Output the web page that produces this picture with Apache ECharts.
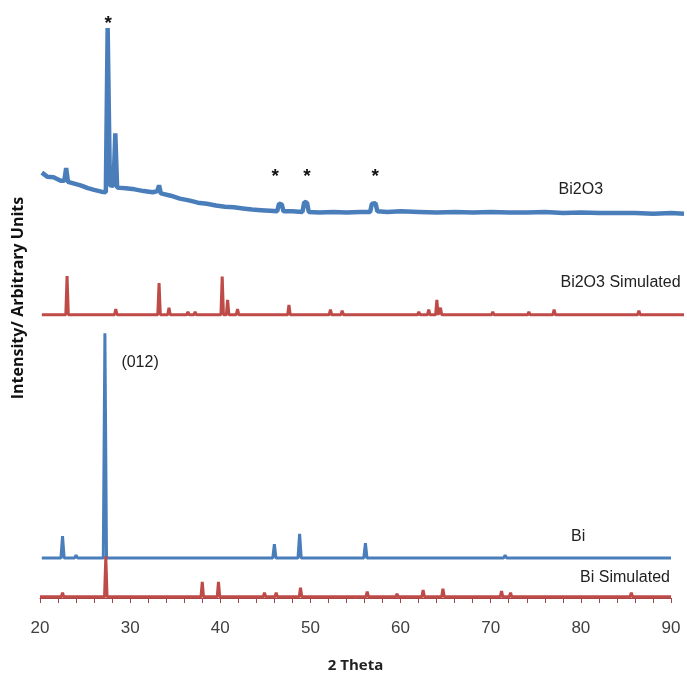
<!DOCTYPE html>
<html>
<head>
<meta charset="utf-8">
<script src="https://cdn.jsdelivr.net/npm/echarts@6/dist/echarts.min.js"></script>
<style>
html,body{margin:0;padding:0;background:#fff;}
#chart{width:687px;height:680px;}
</style>
</head>
<body>
<div id="chart"></div>
<script>
// ---- data (2θ in degrees, intensity in arbitrary stacked units) ----
const xTicks = [20, 30, 40, 50, 60, 70, 80, 90];

// Experimental Bi2O3 pattern (absolute stacked intensity)
const bi2o3Exp = [
  [20.2,73.6],[20.8,72.9],[21.5,72.8],[22.3,72.2],[22.7,72.2],[22.9,74.4],[23.1,72.0],
  [23.8,71.7],[24.5,71.4],[25.3,70.9],[26.0,70.6],[26.8,70.3],[27.3,70.2],[27.5,98.6],
  [27.75,71.4],[28.15,71.3],[28.35,80.4],[28.55,71.0],[29.5,70.9],[30.5,70.7],[31.5,70.4],
  [32.5,70.2],[33.0,70.4],[33.2,71.4],[33.4,70.0],[34.5,69.6],[35.5,69.1],[36.5,68.8],
  [37.5,68.4],[38.5,68.2],[39.5,67.9],[40.5,67.7],[41.5,67.6],[42.5,67.4],[43.5,67.2],
  [44.5,67.1],[45.5,67.0],[46.3,66.9],[46.5,68.2],[46.8,68.1],[47.0,66.9],[48.0,66.9],
  [49.1,66.8],[49.3,68.5],[49.6,68.4],[49.8,66.8],[51.0,66.7],[52.5,66.8],[54.0,66.7],
  [55.5,66.8],[56.6,66.8],[56.8,68.2],[57.2,68.3],[57.4,66.9],[58.5,66.8],[60,66.9],
  [62,66.8],[64,66.7],[66,66.8],[68,66.7],[70,66.8],[72,66.7],[74,66.7],[76,66.8],
  [78,66.6],[80,66.7],[82,66.6],[84,66.6],[86,66.6],[88,66.5],[90,66.6],[91.4,66.5]
];

// Simulated Bi2O3 sticks: [2θ, height]
const bi2o3SimBase = 49.0;
const bi2o3SimPeaks = [
  [23.0,6.7],[28.4,1.0],[33.2,5.5],[34.3,1.2],[36.4,0.5],[37.2,0.5],[40.2,6.6],[40.8,2.6],
  [41.9,1.0],[44.4,0.3],[47.6,1.7],[50.2,0.3],[52.2,0.9],[53.5,0.7],[56.6,0.3],[62.0,0.5],
  [63.1,0.9],[64.0,2.6],[64.4,1.2],[67.2,0.3],[69.2,0.3],[70.2,0.5],[73.3,0.3],[74.2,0.5],
  [77.0,0.9],[79.2,0.3],[82.9,0.3],[86.4,0.7]
];
const bi2o3SimRange = [20.2, 91.4];

// Experimental Bi pattern
const biExpBase = 6.9;
const biExpPeaks = [
  [22.5,3.8],[24.0,0.5],[27.2,38.9],[38.0,0.2],[39.8,0.2],[44.6,0.3],[46.0,2.4],
  [48.8,4.2],[56.1,2.6],[71.6,0.5]
];
const biExpRange = [20.2, 90];

// Simulated Bi sticks
const biSimBase = 0.2;
const biSimPeaks = [
  [22.5,0.7],[27.3,7.0],[38.0,2.6],[39.8,2.6],[44.9,0.7],[46.2,0.7],[48.9,1.6],[56.3,0.9],
  [59.6,0.5],[62.5,1.2],[64.7,1.4],[67.9,0.3],[71.2,1.0],[72.2,0.7],[85.6,0.7],[87.7,0.3]
];
const biSimRange = [20, 90];

// Annotations [text, 2θ, y]
const annotations = [
  ['Bi2O3', 80.0, 70.6],
  ['Bi2O3 Simulated', 84.4, 54.5],
  ['Bi', 79.7, 10.6],
  ['Bi Simulated', 84.9, 3.6],
  ['(012)', 31.1, 40.8]
];
const stars = [[27.55, 99.4], [46.07, 72.8], [49.6, 72.8], [57.17, 72.8]];

// ---- build stick/peak lines from the lists ----
function sticks(peaks, base, range, hw) {
  const out = [[range[0], base]];
  peaks.forEach(p => {
    out.push([p[0] - hw, base]);
    out.push([p[0], base + p[1]]);
    out.push([p[0] + hw, base]);
  });
  out.push([range[1], base]);
  return out;
}

const BLUE = '#4A7EBB';
const RED = '#BE4B48';
const FONT = 'Liberation Sans, Arial, sans-serif';
const BFONT = '"Open Sans", Arial, sans-serif';

const chart = echarts.init(document.getElementById('chart'), null, {renderer: 'canvas'});

const labelMarks = annotations.map(a => ({
  coord: [a[1], a[2]],
  label: {formatter: a[0]}
}));
const starMarks = stars.map(s => ({
  coord: s,
  label: {formatter: '*'}
}));

const hiddenY = {
  type: 'value', min: 0, max: 100,
  axisLine: {show: false}, axisTick: {show: false}, axisLabel: {show: false},
  splitLine: {show: false}
};

chart.setOption({
  animation: false,
  backgroundColor: '#ffffff',
  grid: [
    {left: 40, right: 16, top: 20, bottom: 82, containLabel: false},
    {left: 40, right: 3, top: 20, bottom: 82, containLabel: false}
  ],
  xAxis: [{
    gridIndex: 0,
    type: 'value',
    min: 20, max: 90, interval: 2,
    name: '2 Theta',
    nameLocation: 'middle',
    nameGap: 60,
    nameTextStyle: {fontFamily: BFONT, fontWeight: 'bold', fontSize: 15, color: '#222'},
    axisLine: {show: true, lineStyle: {color: '#A04848', width: 1}},
    axisTick: {show: true, inside: false, length: 5, lineStyle: {color: '#A04848', width: 1}},
    axisLabel: {
      show: true, margin: 22, fontSize: 17, fontFamily: FONT, color: '#404040',
      formatter: v => (xTicks.indexOf(v) >= 0 ? String(v) : '')
    },
    splitLine: {show: false}
  }, {
    gridIndex: 1,
    type: 'value',
    min: 20, max: 91.4,
    show: false,
    splitLine: {show: false}
  }],
  yAxis: [Object.assign({gridIndex: 0}, hiddenY), Object.assign({gridIndex: 1}, hiddenY)],
  graphic: [{
    type: 'text',
    x: 18, y: 298,
    rotation: Math.PI / 2,
    style: {
      text: 'Intensity/ Arbitrary Units',
      font: 'bold 16px ' + BFONT,
      fill: '#111',
      align: 'center',
      verticalAlign: 'middle'
    }
  }],
  series: [
    {
      name: 'Bi Simulated', type: 'line', xAxisIndex: 0, yAxisIndex: 0,
      data: sticks(biSimPeaks, biSimBase, biSimRange, 0.14),
      showSymbol: false, symbol: 'none', z: 3,
      lineStyle: {color: RED, width: 3}
    },
    {
      name: 'Bi', type: 'line', xAxisIndex: 0, yAxisIndex: 0,
      data: sticks(biExpPeaks, biExpBase, biExpRange, 0.18),
      showSymbol: false, symbol: 'none', z: 2,
      lineStyle: {color: BLUE, width: 3},
      markPoint: {
        symbol: 'circle', symbolSize: 0, silent: true,
        label: {show: true, position: 'inside', fontFamily: FONT, fontSize: 16, color: '#222'},
        data: labelMarks
      }
    },
    {
      name: 'Bi2O3 Simulated', type: 'line', xAxisIndex: 1, yAxisIndex: 1,
      data: sticks(bi2o3SimPeaks, bi2o3SimBase, bi2o3SimRange, 0.14),
      showSymbol: false, symbol: 'none', z: 2,
      lineStyle: {color: RED, width: 3}
    },
    {
      name: 'Bi2O3', type: 'line', xAxisIndex: 1, yAxisIndex: 1,
      data: bi2o3Exp,
      showSymbol: false, symbol: 'none', z: 2,
      lineStyle: {color: BLUE, width: 4.5},
      markPoint: {
        symbol: 'circle', symbolSize: 0, silent: true,
        label: {show: true, position: 'inside', fontFamily: FONT, fontWeight: 'bold', fontSize: 19, color: '#111'},
        data: starMarks
      }
    }
  ]
});
</script>
</body>
</html>
